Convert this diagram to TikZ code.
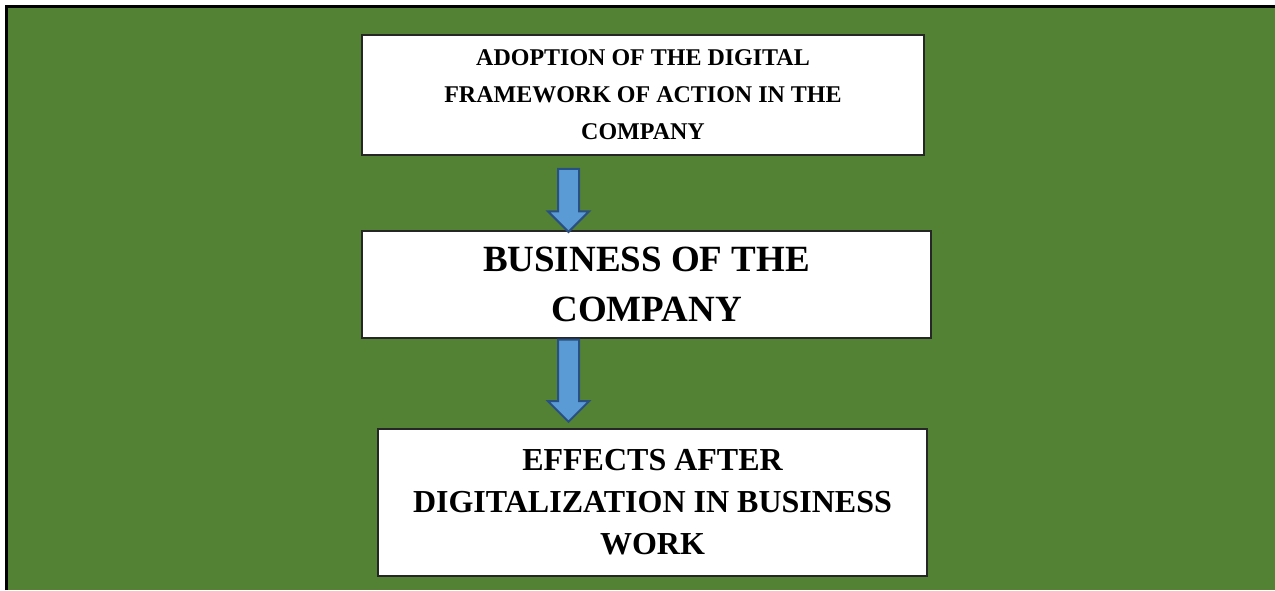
\documentclass[tikz,border=0pt]{standalone}
\usepackage{xcolor}
\usepackage{fontspec}
\setmainfont{Liberation Serif}
\usepackage{tikz}
\usetikzlibrary{positioning,shapes.arrows}
\definecolor{bggreen}{RGB}{84,130,53}
\definecolor{arrowblue}{RGB}{91,155,213}
\definecolor{arrowedge}{RGB}{40,80,130}
\definecolor{boxedge}{RGB}{38,38,38}

\begin{document}
\begin{tikzpicture}[
  node distance=37pt,
  stepbox/.style={draw=boxedge, line width=0.9pt, fill=white, align=center, inner sep=0pt},
  downarrow/.style={single arrow, draw=arrowedge, line width=1pt, fill=arrowblue, single arrow head extend=5pt, inner xsep=0pt, inner ysep=4.75pt, rotate=-90, anchor=tail}
]
\useasboundingbox (0,0) rectangle (637.5pt,-295pt);
\fill[bggreen] (3pt,-3pt) rectangle (637.5pt,-295pt);
\draw[line width=1.5pt] (3pt,-295pt) -- (3pt,-3pt) -- (637.5pt,-3pt);

\node[stepbox, minimum width=281pt, minimum height=60pt, font={\fontsize{12}{18.5}\selectfont\bfseries}] (adopt) at (321.5pt,-47.5pt) {ADOPTION OF THE DIGITAL\\FRAMEWORK OF ACTION IN THE\\COMPANY};
\node[stepbox, below=37pt of adopt, xshift=1.75pt, minimum width=284.5pt, minimum height=53.5pt, font={\fontsize{18.5}{25}\selectfont\bfseries}] (business) {BUSINESS OF THE\\COMPANY};
\node[stepbox, below=44.5pt of business, xshift=3pt, minimum width=274.5pt, minimum height=73.5pt, font={\fontsize{16}{21}\selectfont\bfseries}] (effects) {EFFECTS AFTER\\DIGITALIZATION IN BUSINESS\\WORK};

\node[downarrow, minimum height=31.5pt] (arrA) at ([xshift=-37.25pt, yshift=-6pt]adopt.south) {};
\node[downarrow, minimum height=41pt] (arrB) at ([xshift=-39pt]business.south) {};
\end{tikzpicture}
\end{document}
